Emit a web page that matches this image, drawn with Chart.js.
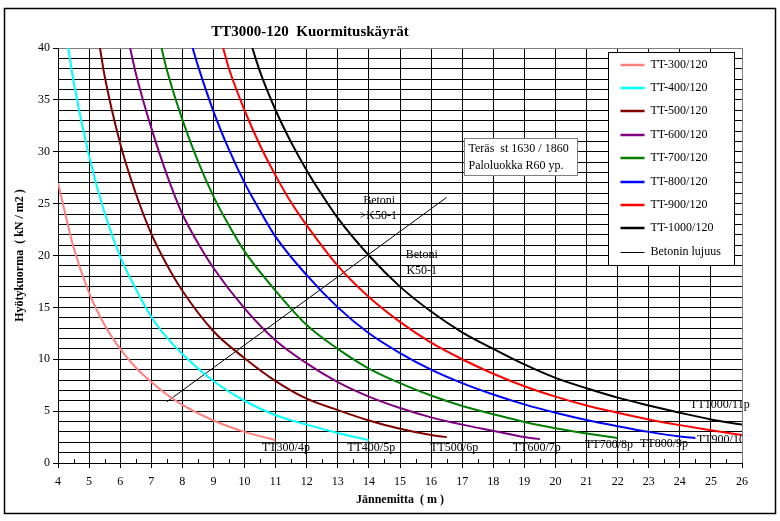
<!DOCTYPE html>
<html>
<head>
<meta charset="utf-8">
<title>TT3000-120 Kuormituskäyrät</title>
<script src="https://cdn.jsdelivr.net/npm/chart.js@4.4.1/dist/chart.umd.min.js"></script>
<style>
  html, body { margin: 0; padding: 0; background: #fff; }
  #wrap { position: relative; width: 780px; height: 521px; }
</style>
</head>
<body>
<div id="wrap"><canvas id="loadChart" width="780" height="521"></canvas></div>
<script>
// span (m) / payload (kN/m2)
const span300 = [4, 4.5, 5, 5.5, 6, 6.5, 7, 7.5, 8, 9, 10, 11];
const load300 = [27.0, 20.8, 16.4, 13.3, 11.0, 9.2, 7.8, 6.6, 5.6, 4.1, 3.0, 2.2];

const span400 = [4.33, 4.5, 5, 5.5, 6, 6.5, 7, 7.5, 8, 9, 10, 11, 12, 13, 14];
const load400 = [40, 36.8, 29.6, 24.1, 19.9, 16.8, 14.1, 12.1, 10.5, 7.9, 6.0, 4.6, 3.7, 2.9, 2.2];

const span500 = [5.35, 5.5, 6, 6.5, 7, 7.5, 8, 9, 10, 11, 12, 13, 14, 15, 16, 16.5];
const load500 = [40, 37.3, 30.8, 26.0, 22.1, 19.1, 16.6, 12.7, 10.1, 7.9, 6.2, 5.1, 4.1, 3.3, 2.7, 2.5];

const span600 = [6.32, 6.5, 7, 7.5, 8, 8.5, 9, 10, 11, 12, 13, 14, 15, 16, 17, 18, 19, 19.5];
const load600 = [40, 37.6, 32.3, 27.8, 24.0, 21.2, 18.8, 14.9, 11.8, 9.6, 7.8, 6.4, 5.3, 4.4, 3.7, 3.1, 2.5, 2.3];

const span700 = [7.33, 7.5, 8, 8.5, 9, 9.5, 10, 11, 12, 13, 14, 15, 16, 17, 18, 19, 20, 21, 22];
const load700 = [40, 37.9, 33.1, 29.1, 25.7, 22.9, 20.4, 16.6, 13.3, 11.0, 9.1, 7.7, 6.5, 5.5, 4.7, 3.95, 3.35, 2.85, 2.4];

const span800 = [8.33, 8.5, 9, 9.5, 10, 10.5, 11, 12, 13, 14, 15, 16, 17, 18, 19, 20, 21, 22, 23, 24, 24.5];
const load800 = [40, 38.3, 33.9, 30.2, 27.0, 24.3, 21.8, 18.1, 15.0, 12.5, 10.6, 9.0, 7.7, 6.6, 5.65, 4.85, 4.15, 3.55, 3.0, 2.55, 2.4];

const span900 = [9.31, 9.5, 10, 10.5, 11, 11.5, 12, 13, 14, 15, 16, 17, 18, 19, 20, 21, 22, 23, 24, 25, 26];
const load900 = [40, 38.0, 34.0, 30.6, 27.7, 25.1, 22.9, 19.0, 16.0, 13.6, 11.6, 10.0, 8.6, 7.4, 6.4, 5.55, 4.85, 4.2, 3.65, 3.15, 2.7];

const span1000 = [10.25, 10.5, 11, 11.5, 12, 12.5, 13, 14, 15, 16, 17, 18, 19, 20, 21, 22, 23, 24, 25, 26];
const load1000 = [40, 37.7, 34.0, 30.9, 28.2, 25.8, 23.6, 20.0, 17.0, 14.6, 12.6, 11.0, 9.5, 8.2, 7.2, 6.3, 5.55, 4.85, 4.2, 3.7];

const betoniSpan = [7.5, 16.5];
const betoniLoad = [5.9, 25.6];

const seriesNames = ['TT-300/120', 'TT-400/120', 'TT-500/120', 'TT-600/120',
  'TT-700/120', 'TT-800/120', 'TT-900/120', 'TT-1000/120'];
const seriesColors = ['#ff8080', '#00ffff', '#800000', '#800080',
  '#008000', '#0000ff', '#ff0000', '#000000'];
const seriesSpans = [span300, span400, span500, span600, span700, span800, span900, span1000];
const seriesLoads = [load300, load400, load500, load600, load700, load800, load900, load1000];

const yTickLabels = [0, 5, 10, 15, 20, 25, 30, 35, 40];

// text notes, anchored in data units
const endNotes = [
  { text: 'TT300/4p', x: 10.56, y: 1.5 },
  { text: 'TT400/5p', x: 13.3, y: 1.5 },
  { text: 'TT500/6p', x: 15.97, y: 1.5 },
  { text: 'TT600/7p', x: 18.63, y: 1.45 },
  { text: 'TT700/8p', x: 20.95, y: 1.75 },
  { text: 'TT800/9p', x: 22.72, y: 1.85 },
  { text: 'TT900/10p', x: 24.55, y: 2.2, clip: true },
  { text: 'TT1000/11p', x: 24.33, y: 5.6 }
];
const betoniNotes = [
  { text: 'Betoni', x: 14.33, y: 25.3 },
  { text: '>K50-1', x: 14.3, y: 23.85 },
  { text: 'Betoni', x: 15.7, y: 20.05 },
  { text: 'K50-1', x: 15.7, y: 18.5 }
];
const steelNote = ['Teräs  st 1630 / 1860', 'Paloluokka R60 yp.'];

const serif = '"Liberation Serif", "Times New Roman", serif';

function pairs(xs, ys) {
  return xs.map((v, i) => ({ x: v, y: ys[i] }));
}

const datasets = seriesNames.map((name, i) => ({
  label: name,
  data: pairs(seriesSpans[i], seriesLoads[i]),
  borderColor: seriesColors[i],
  backgroundColor: seriesColors[i],
  borderWidth: 2,
  pointRadius: 0,
  cubicInterpolationMode: 'monotone',
  fill: false
}));
datasets.push({
  label: 'Betonin lujuus',
  data: pairs(betoniSpan, betoniLoad),
  borderColor: '#000',
  backgroundColor: '#000',
  borderWidth: 1,
  pointRadius: 0,
  tension: 0,
  fill: false
});

const decorations = {
  id: 'decorations',
  afterDatasetsDraw(chart) {
    const ctx = chart.ctx, a = chart.chartArea;
    const sx = chart.scales.x, sy = chart.scales.y;
    ctx.save();
    ctx.fillStyle = '#000';
    ctx.font = '12px ' + serif;
    ctx.textBaseline = 'middle';
    ctx.textAlign = 'left';
    endNotes.forEach(n => {
      ctx.save();
      if (n.clip) {
        ctx.beginPath();
        ctx.rect(a.left, a.top, a.right - a.left, a.bottom - a.top);
        ctx.clip();
      }
      ctx.fillText(n.text, sx.getPixelForValue(n.x), sy.getPixelForValue(n.y));
      ctx.restore();
    });
    ctx.textAlign = 'center';
    betoniNotes.forEach(n => ctx.fillText(n.text, sx.getPixelForValue(n.x), sy.getPixelForValue(n.y)));
    ctx.restore();

    // minor ticks at half metres
    ctx.save();
    ctx.strokeStyle = '#000';
    ctx.lineWidth = 1;
    ctx.beginPath();
    for (let v = sx.min + 0.5; v < sx.max; v += 1) {
      const px = Math.round(sx.getPixelForValue(v)) + 0.5;
      ctx.moveTo(px, a.bottom);
      ctx.lineTo(px, a.bottom - 4);
    }
    ctx.stroke();
    ctx.restore();
  },
  afterDraw(chart) {
    const ctx = chart.ctx, a = chart.chartArea;
    const sx = chart.scales.x, sy = chart.scales.y;
    ctx.save();

    // outer frame
    ctx.strokeStyle = '#000';
    ctx.lineWidth = 1.5;
    ctx.strokeRect(4.5, 8.5, 771, 505);

    // title + axis titles
    ctx.fillStyle = '#000';
    ctx.textAlign = 'center';
    ctx.textBaseline = 'middle';
    ctx.font = 'bold 15px ' + serif;
    ctx.fillText('TT3000-120  Kuormituskäyrät', 310, 32);
    ctx.font = 'bold 12px ' + serif;
    ctx.fillText('Jännemitta  ( m )', (a.left + a.right) / 2, 500);
    ctx.save();
    ctx.translate(20, (a.top + a.bottom) / 2);
    ctx.rotate(-Math.PI / 2);
    ctx.fillText('Hyötykuorma  ( kN / m2 )', 0, 0);
    ctx.restore();

    // steel note box
    const bx = Math.round(sx.getPixelForValue(17.06)) + 0.5;
    const by = Math.round(sy.getPixelForValue(31.3)) + 0.5;
    ctx.fillStyle = '#fff';
    ctx.fillRect(bx, by, 113, 37);
    ctx.strokeStyle = '#808080';
    ctx.lineWidth = 1;
    ctx.strokeRect(bx, by, 113, 37);
    ctx.fillStyle = '#000';
    ctx.font = '12px ' + serif;
    ctx.textAlign = 'left';
    ctx.fillText(steelNote[0], bx + 4, by + 10);
    ctx.fillText(steelNote[1], bx + 4, by + 27);

    // legend inside the plot, top right
    const lx = a.right - 133.5, ly = a.top + 4.5;
    ctx.fillStyle = '#fff';
    ctx.fillRect(lx, ly, 126, 213);
    ctx.strokeStyle = '#000';
    ctx.strokeRect(lx, ly, 126, 213);
    chart.data.datasets.forEach((ds, i) => {
      const ry = Math.round(ly + 12 + i * 23.4);
      ctx.strokeStyle = ds.borderColor;
      ctx.lineWidth = ds.borderWidth === 1 ? 1 : 2.5;
      ctx.beginPath();
      ctx.moveTo(lx + 12, ry + (ds.borderWidth === 1 ? 0.5 : 0));
      ctx.lineTo(lx + 36, ry + (ds.borderWidth === 1 ? 0.5 : 0));
      ctx.stroke();
      ctx.fillStyle = '#000';
      ctx.fillText(ds.label, lx + 42, ry);
    });
    ctx.restore();
  }
};

document.addEventListener('DOMContentLoaded', function() {
  const ctx = document.getElementById('loadChart').getContext('2d');
  new Chart(ctx, {
    type: 'line',
    data: { datasets: datasets },
    options: {
      responsive: false,
      animation: false,
      devicePixelRatio: 1,
      layout: { padding: { left: 0, top: 48, right: 38, bottom: 0 } },
      plugins: {
        legend: { display: false },
        title: { display: false },
        tooltip: { enabled: false }
      },
      scales: {
        x: {
          type: 'linear',
          min: 4,
          max: 26,
          ticks: {
            stepSize: 1,
            autoSkip: false,
            maxRotation: 0,
            padding: 7,
            color: '#000',
            font: { family: serif, size: 12 }
          },
          grid: {
            color: c => (c.tick && c.tick.value === 26) ? '#808080' : '#000',
            tickColor: '#000',
            tickLength: 5,
            lineWidth: 1
          },
          border: { color: '#000', width: 1 },
          afterFit: s => { s.height = 58; }
        },
        y: {
          min: 0,
          max: 40,
          ticks: {
            stepSize: 1,
            autoSkip: false,
            padding: 3,
            color: '#000',
            font: { family: serif, size: 12 },
            callback: v => yTickLabels.includes(v) ? String(v) : ''
          },
          grid: {
            color: c => (c.tick && c.tick.value === 40) ? '#808080' : '#000',
            tickColor: c => (c.tick && yTickLabels.includes(c.tick.value)) ? '#000' : 'rgba(0,0,0,0)',
            tickLength: 5,
            lineWidth: 1
          },
          border: { color: '#000', width: 1 },
          afterFit: s => { s.width = 58; }
        }
      }
    },
    plugins: [decorations]
  });
});
</script>
</body>
</html>
